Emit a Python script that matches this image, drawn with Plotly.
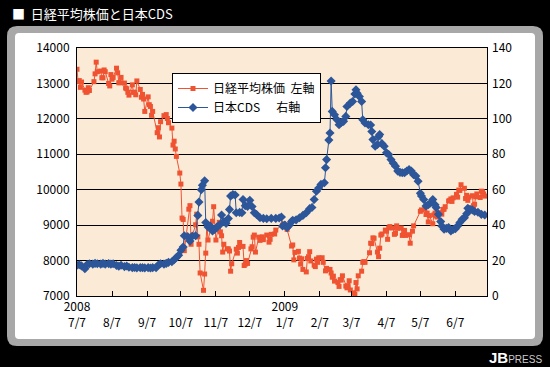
import plotly.graph_objects as go

# ---------------- data ----------------
nikkei_dates = [
    "2008-07-07", "2008-07-08", "2008-07-09", "2008-07-10", "2008-07-11", "2008-07-14", "2008-07-15",
    "2008-07-16", "2008-07-17", "2008-07-18", "2008-07-22", "2008-07-23", "2008-07-24", "2008-07-25",
    "2008-07-28", "2008-07-29", "2008-07-30", "2008-07-31", "2008-08-01", "2008-08-04", "2008-08-05",
    "2008-08-06", "2008-08-07", "2008-08-08", "2008-08-11", "2008-08-12", "2008-08-13", "2008-08-14",
    "2008-08-15", "2008-08-18", "2008-08-19", "2008-08-20", "2008-08-21", "2008-08-22", "2008-08-25",
    "2008-08-26", "2008-08-27", "2008-08-28", "2008-08-29", "2008-09-01", "2008-09-02", "2008-09-03",
    "2008-09-04", "2008-09-05", "2008-09-08", "2008-09-09", "2008-09-10", "2008-09-11", "2008-09-12",
    "2008-09-16", "2008-09-17", "2008-09-18", "2008-09-19", "2008-09-22", "2008-09-24", "2008-09-25",
    "2008-09-26", "2008-09-29", "2008-09-30", "2008-10-01", "2008-10-02", "2008-10-03", "2008-10-06",
    "2008-10-07", "2008-10-08", "2008-10-09", "2008-10-10", "2008-10-14", "2008-10-15", "2008-10-16",
    "2008-10-17", "2008-10-20", "2008-10-21", "2008-10-22", "2008-10-23", "2008-10-24", "2008-10-27",
    "2008-10-28", "2008-10-29", "2008-10-30", "2008-10-31", "2008-11-04", "2008-11-05", "2008-11-06",
    "2008-11-07", "2008-11-10", "2008-11-11", "2008-11-12", "2008-11-13", "2008-11-14", "2008-11-17",
    "2008-11-18", "2008-11-19", "2008-11-20", "2008-11-21", "2008-11-25", "2008-11-26", "2008-11-27",
    "2008-11-28", "2008-12-01", "2008-12-02", "2008-12-03", "2008-12-04", "2008-12-05", "2008-12-08",
    "2008-12-09", "2008-12-10", "2008-12-11", "2008-12-12", "2008-12-15", "2008-12-16", "2008-12-17",
    "2008-12-18", "2008-12-19", "2008-12-22", "2008-12-24", "2008-12-25", "2008-12-26", "2008-12-29",
    "2008-12-30", "2009-01-05", "2009-01-06", "2009-01-07", "2009-01-08", "2009-01-09", "2009-01-13",
    "2009-01-14", "2009-01-15", "2009-01-16", "2009-01-19", "2009-01-20", "2009-01-21", "2009-01-22",
    "2009-01-23", "2009-01-26", "2009-01-27", "2009-01-28", "2009-01-29", "2009-01-30", "2009-02-02",
    "2009-02-03", "2009-02-04", "2009-02-05", "2009-02-06", "2009-02-09", "2009-02-10", "2009-02-12",
    "2009-02-13", "2009-02-16", "2009-02-17", "2009-02-18", "2009-02-19", "2009-02-20", "2009-02-23",
    "2009-02-24", "2009-02-25", "2009-02-26", "2009-02-27", "2009-03-02", "2009-03-03", "2009-03-04",
    "2009-03-05", "2009-03-06", "2009-03-09", "2009-03-10", "2009-03-11", "2009-03-12", "2009-03-13",
    "2009-03-16", "2009-03-17", "2009-03-18", "2009-03-19", "2009-03-23", "2009-03-24", "2009-03-25",
    "2009-03-26", "2009-03-27", "2009-03-30", "2009-03-31", "2009-04-01", "2009-04-02", "2009-04-03",
    "2009-04-06", "2009-04-07", "2009-04-08", "2009-04-09", "2009-04-10", "2009-04-13", "2009-04-14",
    "2009-04-15", "2009-04-16", "2009-04-17", "2009-04-20", "2009-04-21", "2009-04-22", "2009-04-23",
    "2009-04-24", "2009-04-27", "2009-04-28", "2009-04-30", "2009-05-01", "2009-05-07", "2009-05-08",
    "2009-05-11", "2009-05-12", "2009-05-13", "2009-05-14", "2009-05-15", "2009-05-18", "2009-05-19",
    "2009-05-20", "2009-05-21", "2009-05-22", "2009-05-25", "2009-05-26", "2009-05-27", "2009-05-28",
    "2009-05-29", "2009-06-01", "2009-06-02", "2009-06-03", "2009-06-04", "2009-06-05", "2009-06-08",
    "2009-06-09", "2009-06-10", "2009-06-11", "2009-06-12", "2009-06-15", "2009-06-16", "2009-06-17",
    "2009-06-18", "2009-06-19", "2009-06-22", "2009-06-23", "2009-06-24", "2009-06-25", "2009-06-26",
    "2009-06-29", "2009-06-30", "2009-07-01", "2009-07-02", "2009-07-03",
]
nikkei_values = [
    13400, 13050, 13080, 12890, 13040, 12810, 12750,
    12760, 12880, 12800, 13050, 13270, 13600, 13330,
    13350, 13160, 13160, 13380, 13330, 13000, 12930,
    13250, 13120, 13170, 13430, 13300, 13020, 13020,
    13170, 13010, 12870, 12850, 12750, 12670, 12960,
    12750, 12750, 12680, 13070, 12830, 12610, 12690,
    12560, 12210, 12620, 12400, 12350, 12100, 12210,
    11610, 11750, 11490, 11920, 12090, 12120, 12010,
    11890, 11740, 11260, 11370, 11150, 10940, 10470,
    10160, 9200, 9160, 8280, 9450, 9550, 8460,
    8690, 9010, 9310, 8670, 8460, 7650, 7160,
    7620, 8210, 9030, 8580, 9110, 9520, 8900,
    8580, 9080, 8810, 8700, 8240, 8460, 8330,
    8330, 8270, 7700, 7910, 8320, 8210, 8370,
    8510, 8400, 7860, 7900, 8000, 7920, 8330,
    8390, 8660, 8720, 8240, 8660, 8570, 8610,
    8670, 8590, 8720, 8520, 8600, 8740, 8750,
    8860, 9000, 9040, 9010, 8960, 8880, 8410,
    8440, 8020, 8230, 8260, 8070, 7900, 8050,
    7750, 7680, 8060, 8110, 8250, 7990, 7870,
    7830, 8040, 7950, 8080, 8080, 7950, 7710,
    7780, 7750, 7650, 7530, 7560, 7420, 7380,
    7270, 7460, 7450, 7570, 7280, 7230, 7290,
    7430, 7170, 7090, 7050, 7380, 7200, 7570,
    7700, 7950, 7970, 7950, 8220, 8490, 8480,
    8640, 8630, 8240, 8110, 8350, 8720, 8750,
    8860, 8830, 8600, 8920, 8960, 8920, 8740,
    8770, 8980, 8910, 8920, 8710, 8730, 8850,
    8710, 8730, 8490, 8830, 8980, 9390, 9430,
    9450, 9300, 9340, 9090, 9270, 9040, 9290,
    9340, 9260, 9230, 9350, 9310, 9440, 9450,
    9520, 9680, 9700, 9740, 9670, 9770, 9870,
    9790, 9990, 9980, 10140, 10040, 9750, 9840,
    9700, 9790, 9830, 9550, 9590, 9800, 9880,
    9780, 9960, 9940, 9880, 9820,
]

cds_dates = [
    "2008-07-07", "2008-07-09", "2008-07-11", "2008-07-14", "2008-07-16", "2008-07-18", "2008-07-21",
    "2008-07-23", "2008-07-25", "2008-07-28", "2008-07-30", "2008-08-01", "2008-08-04", "2008-08-06",
    "2008-08-08", "2008-08-11", "2008-08-13", "2008-08-15", "2008-08-18", "2008-08-20", "2008-08-22",
    "2008-08-25", "2008-08-27", "2008-08-29", "2008-09-01", "2008-09-03", "2008-09-05", "2008-09-08",
    "2008-09-10", "2008-09-12", "2008-09-15", "2008-09-17", "2008-09-19", "2008-09-22", "2008-09-24",
    "2008-09-26", "2008-09-29", "2008-10-01", "2008-10-03", "2008-10-05", "2008-10-07", "2008-10-09",
    "2008-10-10", "2008-10-13", "2008-10-15", "2008-10-17", "2008-10-20", "2008-10-22", "2008-10-23",
    "2008-10-25", "2008-10-26", "2008-10-28", "2008-10-29", "2008-10-31", "2008-11-02", "2008-11-04",
    "2008-11-06", "2008-11-08", "2008-11-10", "2008-11-12", "2008-11-14", "2008-11-16", "2008-11-18",
    "2008-11-19", "2008-11-20", "2008-11-22", "2008-11-24", "2008-11-25", "2008-11-28", "2008-11-30",
    "2008-12-01", "2008-12-03", "2008-12-05", "2008-12-07", "2008-12-09", "2008-12-11", "2008-12-13",
    "2008-12-16", "2008-12-19", "2008-12-22", "2008-12-26", "2008-12-30", "2009-01-02", "2009-01-04",
    "2009-01-05", "2009-01-07", "2009-01-09", "2009-01-11", "2009-01-13", "2009-01-14", "2009-01-17",
    "2009-01-20", "2009-01-23", "2009-01-26", "2009-01-29", "2009-01-31", "2009-02-02", "2009-02-04",
    "2009-02-06", "2009-02-08", "2009-02-11", "2009-02-12", "2009-02-13", "2009-02-15", "2009-02-16",
    "2009-02-17", "2009-02-18", "2009-02-20", "2009-02-22", "2009-02-24", "2009-02-26", "2009-02-28",
    "2009-03-02", "2009-03-03", "2009-03-06", "2009-03-08", "2009-03-10", "2009-03-11", "2009-03-12",
    "2009-03-14", "2009-03-16", "2009-03-17", "2009-03-19", "2009-03-22", "2009-03-24", "2009-03-25",
    "2009-03-26", "2009-03-28", "2009-03-30", "2009-03-31", "2009-04-01", "2009-04-03", "2009-04-05",
    "2009-04-07", "2009-04-09", "2009-04-11", "2009-04-13", "2009-04-15", "2009-04-17", "2009-04-19",
    "2009-04-21", "2009-04-23", "2009-04-25", "2009-04-27", "2009-04-29", "2009-05-01", "2009-05-03",
    "2009-05-05", "2009-05-07", "2009-05-08", "2009-05-10", "2009-05-12", "2009-05-14", "2009-05-16",
    "2009-05-18", "2009-05-20", "2009-05-21", "2009-05-23", "2009-05-25", "2009-05-26", "2009-05-28",
    "2009-05-30", "2009-06-01", "2009-06-03", "2009-06-05", "2009-06-07", "2009-06-09", "2009-06-11",
    "2009-06-13", "2009-06-15", "2009-06-17", "2009-06-18", "2009-06-20", "2009-06-22", "2009-06-24",
    "2009-06-27", "2009-06-30", "2009-07-03",
]
cds_values = [
    17.4, 17.6, 17.0, 15.4, 17.8, 18.2, 18.0,
    18.4, 18.2, 18.0, 18.4, 18.0, 18.3, 18.0,
    18.2, 17.2, 16.8, 17.4, 16.6, 16.9, 16.2,
    16.0, 16.1, 15.9, 16.0, 16.0, 15.9, 16.0,
    15.8, 16.0, 16.0, 17.5, 18.2, 18.0, 18.4,
    19.0, 19.3, 20.5, 21.7, 23.0, 25.8, 27.7,
    34.0, 33.5, 31.0, 33.8, 34.0, 45.5, 53.0,
    60.0, 62.5, 65.0, 41.5, 39.0, 39.5, 36.7,
    37.5, 39.0, 40.0, 45.7, 42.0, 41.0, 43.7,
    48.9, 56.4, 57.3, 57.0, 47.0, 47.2, 47.0,
    54.5, 51.0, 50.5, 54.0, 50.5, 47.0, 46.0,
    44.2, 43.8, 43.6, 43.8, 43.8, 44.0, 44.6,
    39.5, 40.0, 38.6, 40.0, 42.0, 42.7, 43.0,
    44.2, 45.5, 47.0, 49.3, 50.0, 54.5, 59.2,
    61.0, 63.0, 63.9, 72.4, 77.0, 88.0, 92.0,
    121.4, 104.2, 102.3, 99.6, 96.7, 98.0, 98.6,
    101.4, 107.0, 108.9, 109.8, 114.0, 116.4, 114.5,
    112.6, 109.8, 99.5, 97.7, 96.7, 96.5, 92.9,
    88.3, 84.5, 85.5, 90.0, 91.1, 86.0, 84.5,
    80.8, 79.9, 77.0, 75.0, 73.3, 70.5, 69.8,
    69.6, 69.6, 70.6, 71.4, 70.5, 68.5, 67.7,
    64.8, 58.0, 56.4, 54.5, 50.8, 51.5, 52.5,
    54.5, 51.5, 49.9, 46.1, 42.0, 39.5, 37.7,
    38.2, 38.6, 36.7, 37.5, 38.0, 39.5, 41.5,
    43.3, 44.2, 46.5, 49.5, 49.0, 48.6, 47.7,
    47.3, 46.1, 45.7,
]

tick_dates = ["2008-07-07", "2008-08-07", "2008-09-07", "2008-10-07", "2008-11-07", "2008-12-07",
              "2009-01-07", "2009-02-07", "2009-03-07", "2009-04-07", "2009-05-07", "2009-06-07"]
tick_labels = ["2008<br>7/7", "<br>8/7", "<br>9/7", "<br>10/7", "<br>11/7", "<br>12/7",
               "2009<br>1/7", "<br>2/7", "<br>3/7", "<br>4/7", "<br>5/7", "<br>6/7"]
left_ticks = [7000, 8000, 9000, 10000, 11000, 12000, 13000, 14000]
right_ticks = [0, 20, 40, 60, 80, 100, 120, 140]

title_text = "■  日経平均株価と日本CDS"
name_nikkei = "日経平均株価  左軸"
name_cds = "日本CDS      右軸"

# ---------------- styling ----------------
FONT = "Noto Sans CJK JP"
RED = "#EF5332"
BLUE = "#2C5699"
PEACH = "#FBEBD6"
GREY = "#A8A8A8"

W, H = 550, 367
ML, MR, MT, MB = 77, 63, 48, 71
PW, PH = W - ML - MR, H - MT - MB


def px_x(px):
    return (px - ML) / PW


def px_y(py):
    return (H - MB - py) / PH


def rounded(x0p, y0p, x1p, y1p, r):
    x0, x1 = px_x(x0p), px_x(x1p)
    yt, yb = px_y(y0p), px_y(y1p)
    rx, ry = r / PW, r / PH
    return (f"M {x0+rx},{yt} L {x1-rx},{yt} Q {x1},{yt} {x1},{yt-ry} "
            f"L {x1},{yb+ry} Q {x1},{yb} {x1-rx},{yb} L {x0+rx},{yb} "
            f"Q {x0},{yb} {x0},{yb+ry} L {x0},{yt-ry} Q {x0},{yt} {x0+rx},{yt} Z")


fig = go.Figure()
fig.add_trace(go.Scatter(
    x=nikkei_dates, y=nikkei_values, name=name_nikkei, mode="lines+markers",
    line=dict(color=RED, width=1),
    marker=dict(symbol="square", size=5, color=RED),
    yaxis="y",
))
fig.add_trace(go.Scatter(
    x=cds_dates, y=cds_values, name=name_cds, mode="lines+markers",
    line=dict(color=BLUE, width=1),
    marker=dict(symbol="diamond", size=7, color=BLUE),
    yaxis="y2",
))

shapes = [
    dict(type="path", xref="paper", yref="paper", path=rounded(7, 26, 543, 346, 10),
         fillcolor=GREY, line=dict(width=0), layer="below"),
    dict(type="path", xref="paper", yref="paper", path=rounded(15, 33, 535, 339, 4),
         fillcolor="white", line=dict(width=0), layer="below"),
    dict(type="rect", xref="paper", yref="paper", x0=0, x1=1, y0=0, y1=1,
         fillcolor=PEACH, line=dict(width=0), layer="below"),
]

annotations = [
    dict(text=title_text, xref="paper", yref="paper", x=px_x(10), y=px_y(14),
         xanchor="left", yanchor="middle", showarrow=False,
         font=dict(family=FONT, size=13, color="white")),
    dict(text="<b>JB</b><span style='font-size:10px;color:#CCCCCC'>PRESS</span>",
         xref="paper", yref="paper", x=px_x(544), y=px_y(357),
         xanchor="right", yanchor="middle", showarrow=False,
         font=dict(family="Liberation Sans", size=15, color="white")),
]

fig.update_layout(
    width=W, height=H,
    margin=dict(l=ML, r=MR, t=MT, b=MB, pad=0),
    paper_bgcolor="black",
    plot_bgcolor=PEACH,
    font=dict(family=FONT, size=12, color="black"),
    showlegend=True,
    legend=dict(
        x=px_x(172), y=px_y(73), xanchor="left", yanchor="top",
        bgcolor="white", bordercolor="black", borderwidth=1,
        font=dict(family=FONT, size=12, color="black"),
        itemwidth=30, tracegroupgap=0,
    ),
    xaxis=dict(
        type="date", range=["2008-07-07", "2009-07-05"],
        tickvals=tick_dates, ticktext=tick_labels, tickangle=0,
        ticks="inside", ticklen=5, tickcolor="black", tickwidth=1,
        showgrid=False, zeroline=False,
        showline=True, linecolor="black", linewidth=1, mirror=True,
        tickfont=dict(family=FONT, size=12, color="black"),
    ),
    yaxis=dict(
        range=[7000, 14000], tickvals=left_ticks, tickformat="d",
        showgrid=True, gridcolor="black", gridwidth=1, zeroline=False,
        showline=True, linecolor="black", linewidth=1, mirror=True,
        ticks="", tickfont=dict(family=FONT, size=12, color="black"),
        ticklabelstandoff=4,
    ),
    yaxis2=dict(
        range=[0, 140], tickvals=right_ticks, overlaying="y", side="right",
        showgrid=False, zeroline=False, showline=False,
        ticks="", tickfont=dict(family=FONT, size=12, color="black"),
        ticklabelstandoff=4,
    ),
    shapes=shapes,
    annotations=annotations,
)

fig.write_html(
    "out.html",
    config={"displayModeBar": False},
    post_script="document.body.style.margin='0';document.body.style.padding='0';"
                "document.body.style.background='black';",
)
